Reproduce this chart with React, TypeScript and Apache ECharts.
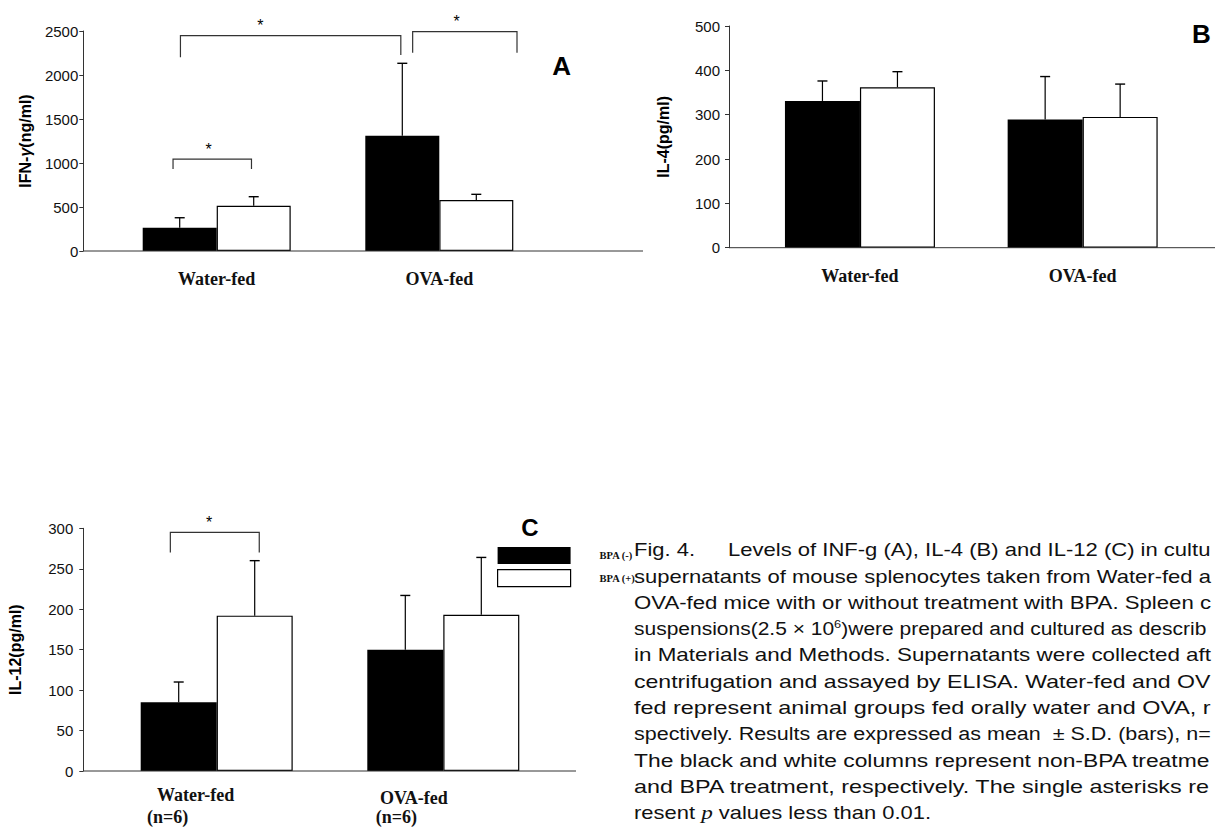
import React, { useEffect, useRef } from 'react';
import * as echarts from 'echarts';

// ---------- data ----------
const groups = ['Water-fed', 'OVA-fed'];
const groupN = [6, 6];
const seriesNames = ['BPA (-)', 'BPA (+)'];

// Panel A: IFN-γ (ng/ml)
const ifnAxis = [0, 2500, 500];
const ifnMeanMinus = [265, 1310];
const ifnSdMinus = [113, 823];
const ifnMeanPlus = [515, 580];
const ifnSdPlus = [102, 64];

// Panel B: IL-4 (pg/ml)
const il4Axis = [0, 500, 100];
const il4MeanMinus = [331, 289];
const il4SdMinus = [45, 97];
const il4MeanPlus = [362, 295];
const il4SdPlus = [35, 74];

// Panel C: IL-12 (pg/ml)
const il12Axis = [0, 300, 50];
const il12MeanMinus = [85, 150];
const il12SdMinus = [25, 67];
const il12MeanPlus = [192, 193];
const il12SdPlus = [68, 71];

// significance brackets: ends given as [category, offset in bar widths], heights in axis units
const ifnBrackets = [
  { from: [0, -0.49], to: [1, -0.52], top: 2447, leftEnd: 2201, rightEnd: 2227, star: [0, 0.59] },
  { from: [1, -0.36], to: [1, 1.05], top: 2492, leftEnd: 2253, rightEnd: 2253, star: [1, 0.235] },
  { from: [0, -0.59], to: [0, 0.47], top: 1045, leftEnd: 932, rightEnd: 932, star: [0, -0.11] },
];
const il12Brackets = [
  { from: [0, -0.61], to: [0, 0.56], top: 295, leftEnd: 270, rightEnd: 270, star: [0, -0.1] },
];

const captionHead = 'Fig. 4.';
const captionFirst = 'Levels of INF-g (A), IL-4 (B) and IL-12 (C) in cultu';
// {s|..} marks a superscript
const captionLines = [
  'supernatants of mouse splenocytes taken from Water-fed a',
  'OVA-fed mice with or without treatment with BPA. Spleen c',
  'suspensions(2.5 \u00d7 10{s|6})were prepared and cultured as describ',
  'in Materials and Methods. Supernatants were collected aft',
  'centrifugation and assayed by ELISA. Water-fed and OV',
  'fed represent animal groups fed orally water and OVA, r',
  'spectively. Results are expressed as mean  \u00b1 S.D. (bars), n=',
  'The black and white columns represent non-BPA treatme',
  'and BPA treatment, respectively. The single asterisks re',
];
const captionLast = 'resent {i|p} values less than 0.01.';

// ---------- styles ----------
const SANS = 'Liberation Sans, Arial, sans-serif';
const SERIF = 'Liberation Serif, Times New Roman, serif';
const AXIS_COLOR = '#333';
const CAP_FONT = `18px ${SANS}`;

let measureCtx: CanvasRenderingContext2D | null = null;
function textWidth(text: string, font: string) {
  if (!measureCtx) measureCtx = document.createElement('canvas').getContext('2d');
  if (!measureCtx) return text.length * 9;
  measureCtx.font = font;
  return measureCtx.measureText(text).width;
}
function fitScale(text: string, x0: number, right: number) {
  const plain = text.replace(/\{s\|([^}]*)\}/g, '$1');
  const s = (right - x0) / textWidth(plain, CAP_FONT);
  return Math.max(1.0, Math.min(1.45, s));
}

function errorSeries(axisIdx: number, mean: number[], sd: number[], side: number, bw: number) {
  return {
    type: 'custom',
    xAxisIndex: axisIdx,
    yAxisIndex: axisIdx,
    z: 5,
    silent: true,
    encode: { x: 0, y: 1 },
    data: mean.map((m, i) => [i, m, sd[i]]),
    renderItem: (params: any, api: any) => {
      const c = api.value(0);
      const m = api.value(1);
      const s = api.value(2);
      const p0 = api.coord([c, m]);
      const p1 = api.coord([c, m + s]);
      const x = p0[0] + side * bw / 2;
      return {
        type: 'group',
        children: [
          { type: 'line', shape: { x1: x, y1: p0[1], x2: x, y2: p1[1] }, style: { stroke: '#000', lineWidth: 1.2 } },
          { type: 'line', shape: { x1: x - 5, y1: p1[1], x2: x + 5, y2: p1[1] }, style: { stroke: '#000', lineWidth: 1.4 } },
        ],
      };
    },
  };
}

function bracketSeries(axisIdx: number, list: any[], bw: number) {
  return {
    type: 'custom',
    xAxisIndex: axisIdx,
    yAxisIndex: axisIdx,
    z: 6,
    silent: true,
    encode: { x: 0, y: 1 },
    data: list.map((b) => [b.from[0], b.top]),
    renderItem: (params: any, api: any) => {
      const b = list[params.dataIndex];
      const xL = api.coord([b.from[0], 0])[0] + b.from[1] * bw;
      const xR = api.coord([b.to[0], 0])[0] + b.to[1] * bw;
      const xS = api.coord([b.star[0], 0])[0] + b.star[1] * bw;
      const yT = api.coord([0, b.top])[1];
      const yL = api.coord([0, b.leftEnd])[1];
      const yR = api.coord([0, b.rightEnd])[1];
      return {
        type: 'group',
        children: [
          {
            type: 'polyline',
            shape: { points: [[xL, yL], [xL, yT], [xR, yT], [xR, yR]] },
            style: { stroke: '#333', lineWidth: 1.2, fill: 'none' },
          },
          {
            type: 'text',
            x: xS,
            y: yT - 10,
            style: { text: '*', fill: '#000', font: `16px ${SANS}`, align: 'center', verticalAlign: 'middle' },
          },
        ],
      };
    },
  };
}

function barPair(axisIdx: number, minus: number[], plus: number[], bw: number) {
  return [
    {
      type: 'bar', name: seriesNames[0], xAxisIndex: axisIdx, yAxisIndex: axisIdx,
      data: minus, barWidth: bw, barGap: '0%', itemStyle: { color: '#000' },
    },
    {
      type: 'bar', name: seriesNames[1], xAxisIndex: axisIdx, yAxisIndex: axisIdx,
      data: plus, barWidth: bw, barGap: '0%',
      itemStyle: { color: '#fff', borderColor: '#000', borderWidth: 1.2 },
    },
  ];
}

function yAxisOf(gridIndex: number, axis: number[], offset: number, name: string, nameGap: number, labelMargin: number) {
  return {
    gridIndex,
    type: 'value',
    min: axis[0],
    max: axis[1],
    interval: axis[2],
    offset,
    axisLine: { show: true, lineStyle: { color: AXIS_COLOR, width: 1 } },
    axisTick: { show: true, length: 4, lineStyle: { color: AXIS_COLOR } },
    splitLine: { show: false },
    axisLabel: {
      margin: labelMargin, fontSize: 15, fontFamily: SANS, color: '#111',
      formatter: (v: number) => String(v),
    },
    name,
    nameLocation: 'middle',
    nameGap,
    nameRotate: 90,
    nameTextStyle: {
      fontFamily: SANS, fontWeight: 'bold', fontSize: 16, color: '#000',
      rich: {
        b: { fontFamily: SANS, fontWeight: 'bold', fontSize: 16, color: '#000' },
        g: { fontFamily: SANS, fontStyle: 'italic', fontSize: 16, color: '#000' },
      },
    },
  };
}

const xLabelStyle = { fontFamily: SERIF, fontWeight: 'bold', fontSize: 18, color: '#111', lineHeight: 20 };

export default function App() {
  const ref = useRef<HTMLDivElement>(null);
  useEffect(() => {
    if (!ref.current) return;
    const chart = echarts.init(ref.current, undefined, { renderer: 'svg' });
    const bwA = 74, bwB = 75, bwC = 76;
    const capX = 634, capRight = 1211, capStart = 550, capStep = 26.3;
    const headScale = 1.22;
    const capRich = {
      s: { fontFamily: SANS, fontSize: 11, fill: '#111', verticalAlign: 'top', lineHeight: 20 },
      i: { fontFamily: SERIF, fontStyle: 'italic', fontSize: 19, fill: '#111' },
    };

    const captionGraphics: any[] = [
      { type: 'text', x: capX, y: capStart, scaleX: headScale, style: { text: captionHead, font: CAP_FONT, fill: '#111', align: 'left', verticalAlign: 'middle' } },
      { type: 'text', x: 728, y: capStart, scaleX: fitScale(captionFirst, 728, capRight), style: { text: captionFirst, font: CAP_FONT, fill: '#111', align: 'left', verticalAlign: 'middle' } },
      ...captionLines.map((t, i) => ({
        type: 'text', x: capX, y: capStart + (i + 1) * capStep, scaleX: fitScale(t, capX, capRight),
        style: { text: t, font: CAP_FONT, fill: '#111', align: 'left', verticalAlign: 'middle', rich: capRich },
      })),
      {
        type: 'text', x: capX, y: capStart + 10 * capStep, scaleX: headScale,
        style: { text: captionLast, font: CAP_FONT, fill: '#111', align: 'left', verticalAlign: 'middle', rich: capRich },
      },
    ];

    const option: any = {
      animation: false,
      backgroundColor: '#fff',
      legend: {
        data: [
          { name: seriesNames[0], itemStyle: { color: '#000', borderWidth: 0 } },
          { name: seriesNames[1], itemStyle: { color: '#fff', borderColor: '#000', borderWidth: 1.2 } },
        ],
        left: 497,
        top: 547,
        orient: 'vertical',
        icon: 'rect',
        itemWidth: 73,
        itemHeight: 17,
        itemGap: 5,
        padding: 0,
        selectedMode: false,
        textStyle: {
          fontFamily: SERIF, fontWeight: 'bold', fontSize: 10.5, color: '#111',
          padding: [2, 0, 0, 24],
        },
      },
      grid: [
        { left: 105.4, top: 31, width: 445.2, height: 220, outerBoundsMode: 'none' },
        { left: 748.6, top: 26, width: 445.4, height: 221.7, outerBoundsMode: 'none' },
        { left: 103.4, top: 528.3, width: 453.2, height: 242.7, outerBoundsMode: 'none' },
      ],
      xAxis: [
        {
          gridIndex: 0, type: 'category', data: groups,
          axisLine: { show: false }, axisTick: { show: false },
          axisLabel: { margin: 18, ...xLabelStyle },
        },
        {
          gridIndex: 1, type: 'category', data: groups,
          axisLine: { show: false }, axisTick: { show: false },
          axisLabel: { margin: 18, ...xLabelStyle },
        },
        {
          gridIndex: 2, type: 'category', data: groups,
          axisLine: { show: false }, axisTick: { show: false },
          axisLabel: {
            margin: 13,
            ...xLabelStyle,
            lineHeight: 22,
            formatter: (v: string, i: number) =>
              i === 0 ? `{w|${v}}\n{n|(n=${groupN[i]})}` : `{o|${v}}\n{m|(n=${groupN[i]})}`,
            rich: {
              w: { ...xLabelStyle, lineHeight: 22, padding: [0, 42, 0, 0] },
              n: { ...xLabelStyle, lineHeight: 22, padding: [0, 98, 0, 0] },
              o: { ...xLabelStyle, lineHeight: 22, padding: [5, 59, 0, 0] },
              m: { ...xLabelStyle, lineHeight: 22, padding: [0, 94, 0, 0] },
            },
          },
        },
      ],
      yAxis: [
        yAxisOf(0, ifnAxis, 22.1, '{b|IFN-}{g|\u03b3}{b|(ng/ml)}', 50, 5),
        yAxisOf(1, il4Axis, 19.6, '{b|IL-4(pg/ml)}', 58, 9),
        yAxisOf(2, il12Axis, 20.1, '{b|IL-12(pg/ml)}', 60, 10),
      ],
      series: [
        ...barPair(0, ifnMeanMinus, ifnMeanPlus, bwA),
        ...barPair(1, il4MeanMinus, il4MeanPlus, bwB),
        ...barPair(2, il12MeanMinus, il12MeanPlus, bwC),
        errorSeries(0, ifnMeanMinus, ifnSdMinus, -1, bwA),
        errorSeries(0, ifnMeanPlus, ifnSdPlus, 1, bwA),
        errorSeries(1, il4MeanMinus, il4SdMinus, -1, bwB),
        errorSeries(1, il4MeanPlus, il4SdPlus, 1, bwB),
        errorSeries(2, il12MeanMinus, il12SdMinus, -1, bwC),
        errorSeries(2, il12MeanPlus, il12SdPlus, 1, bwC),
        bracketSeries(0, ifnBrackets, bwA),
        bracketSeries(2, il12Brackets, bwC),
      ],
      graphic: [
        { type: 'line', shape: { x1: 83.3, y1: 251, x2: 643, y2: 251 }, style: { stroke: AXIS_COLOR, lineWidth: 1 }, z: 10 },
        { type: 'line', shape: { x1: 729, y1: 247.7, x2: 1215, y2: 247.7 }, style: { stroke: AXIS_COLOR, lineWidth: 1 }, z: 10 },
        { type: 'line', shape: { x1: 83.3, y1: 771, x2: 576, y2: 771 }, style: { stroke: AXIS_COLOR, lineWidth: 1 }, z: 10 },
        { type: 'text', x: 561.7, y: 66, style: { text: 'A', font: `bold 26px ${SANS}`, fill: '#000', align: 'center', verticalAlign: 'middle' } },
        { type: 'text', x: 1192, y: 34, style: { text: 'B', font: `bold 26px ${SANS}`, fill: '#000', align: 'left', verticalAlign: 'middle' } },
        { type: 'text', x: 530, y: 527, style: { text: 'C', font: `bold 24px ${SANS}`, fill: '#000', align: 'center', verticalAlign: 'middle' } },
        ...captionGraphics,
      ],
    };
    chart.setOption(option);
    return () => chart.dispose();
  }, []);
  return <div ref={ref} style={{ position: 'absolute', left: 0, top: 0, width: 1215, height: 831 }} />;
}
